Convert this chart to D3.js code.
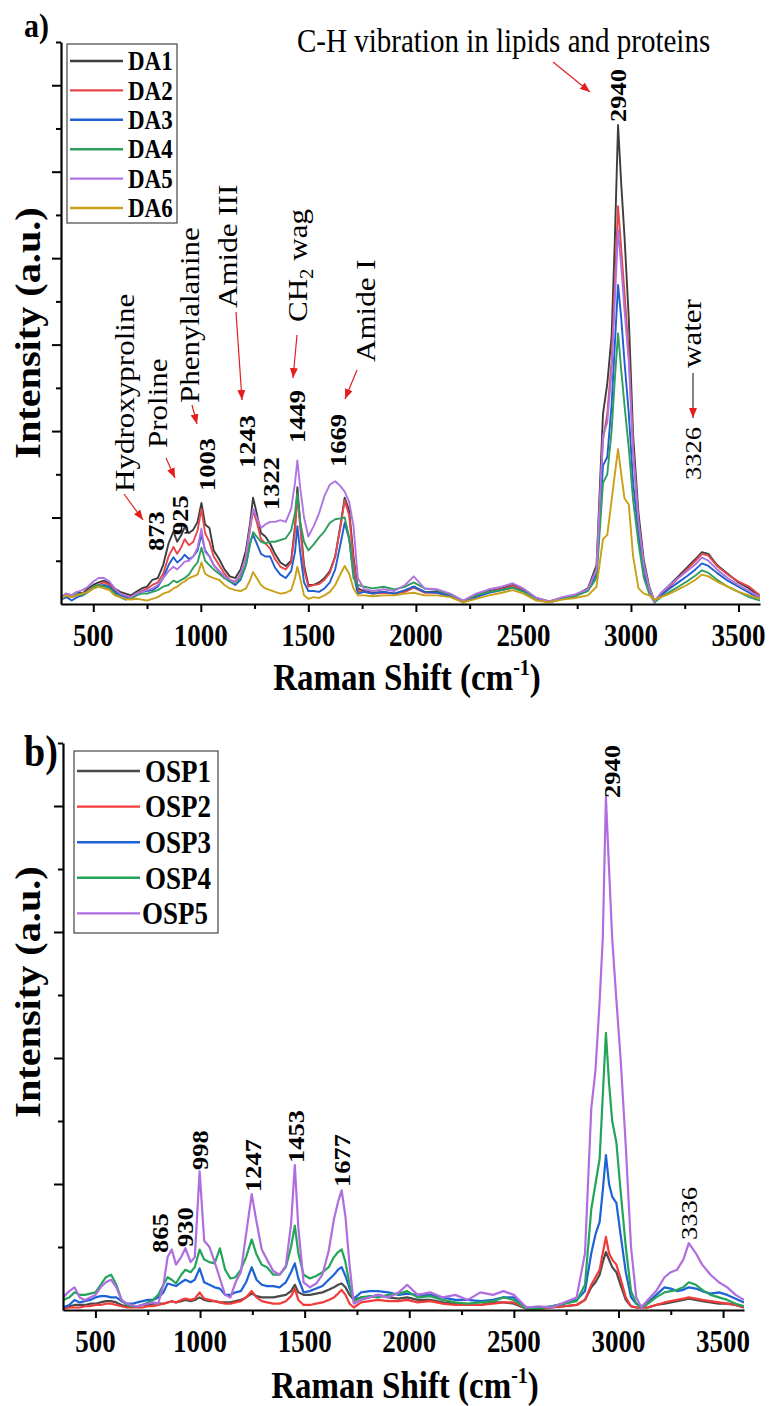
<!DOCTYPE html>
<html>
<head>
<meta charset="utf-8">
<script src="https://cdn.jsdelivr.net/npm/d3@7"></script>
<style>
  body { margin: 0; background: #fff; }
  svg text { font-family: "Liberation Serif", "Times New Roman", serif; fill: #000; }
</style>
</head>
<body>
<svg id="chart" width="769" height="1406"></svg>
<script>
// ---- panel a: Raman shift grid (cm-1) and spectra DA1..DA6 ----
const shiftA = [
  350,375,400,425,450,475,500,525,550,575,
  600,625,650,675,700,725,750,775,800,825,
  850,873,890,910,925,945,965,985,1003,1020,
  1040,1060,1085,1110,1135,1160,1185,1210,1230,1243,
  1260,1280,1300,1322,1345,1370,1395,1420,1438,1449,
  1462,1480,1500,1525,1550,1575,1600,1625,1650,1669,
  1690,1710,1730,1760,1800,1850,1900,1950,1990,2040,
  2100,2160,2220,2280,2340,2400,2450,2500,2560,2620,
  2680,2740,2800,2840,2870,2890,2910,2925,2940,2955,
  2970,2990,3010,3035,3060,3085,3110,3140,3180,3220,
  3260,3300,3330,3360,3400,3450,3500,3550,3600
];
const da1 = [
  0.08,0.12,0.10,0.14,0.12,0.18,0.22,0.25,0.27,0.24,
  0.18,0.14,0.12,0.10,0.14,0.18,0.20,0.28,0.30,0.45,
  0.70,0.84,0.72,0.80,0.89,0.82,0.86,0.95,1.17,0.92,
  0.88,0.62,0.52,0.40,0.32,0.30,0.40,0.62,0.95,1.23,
  1.05,0.82,0.78,0.70,0.58,0.48,0.44,0.50,0.90,1.35,
  0.95,0.45,0.22,0.22,0.25,0.30,0.38,0.55,0.92,1.23,
  1.08,0.55,0.18,0.15,0.13,0.14,0.12,0.15,0.20,0.14,
  0.14,0.10,0.03,0.10,0.15,0.18,0.22,0.17,0.07,0.03,
  0.07,0.10,0.18,0.45,2.20,2.55,3.10,4.20,5.54,4.85,
  4.25,3.30,1.95,1.05,0.50,0.20,0.03,0.12,0.22,0.32,
  0.42,0.52,0.60,0.58,0.45,0.35,0.25,0.18,0.08
];
const da2 = [
  0.06,0.10,0.08,0.12,0.10,0.15,0.20,0.22,0.25,0.22,
  0.16,0.12,0.10,0.08,0.12,0.15,0.18,0.22,0.25,0.35,
  0.55,0.66,0.58,0.66,0.75,0.68,0.72,0.85,1.10,0.82,
  0.72,0.55,0.45,0.35,0.28,0.26,0.34,0.55,0.88,1.08,
  0.95,0.75,0.70,0.64,0.52,0.43,0.40,0.48,0.85,1.25,
  0.90,0.40,0.20,0.22,0.23,0.28,0.36,0.55,0.90,1.20,
  1.02,0.50,0.15,0.14,0.12,0.13,0.12,0.14,0.19,0.13,
  0.13,0.09,0.03,0.09,0.14,0.17,0.21,0.16,0.06,0.03,
  0.06,0.09,0.17,0.40,1.90,2.20,2.80,3.70,4.60,4.10,
  3.60,2.90,1.80,0.95,0.45,0.18,0.03,0.12,0.20,0.30,
  0.40,0.50,0.58,0.56,0.44,0.34,0.26,0.20,0.10
];
const da3 = [
  0.05,0.08,0.04,0.08,0.10,0.14,0.18,0.20,0.22,0.20,
  0.14,0.10,0.08,0.06,0.10,0.14,0.15,0.16,0.20,0.30,
  0.45,0.54,0.48,0.52,0.57,0.52,0.55,0.62,0.80,0.62,
  0.55,0.45,0.38,0.30,0.26,0.22,0.28,0.45,0.72,0.80,
  0.70,0.58,0.55,0.55,0.42,0.34,0.30,0.38,0.60,0.90,
  0.60,0.25,0.15,0.15,0.14,0.18,0.25,0.40,0.70,0.94,
  0.75,0.35,0.12,0.14,0.12,0.14,0.12,0.16,0.20,0.14,
  0.13,0.09,0.02,0.08,0.13,0.16,0.19,0.15,0.06,0.02,
  0.06,0.09,0.16,0.35,1.60,1.70,2.30,3.00,3.69,3.30,
  2.80,2.20,1.40,0.80,0.35,0.15,0.02,0.10,0.18,0.25,
  0.32,0.40,0.47,0.44,0.36,0.27,0.20,0.13,0.06
];
const da4 = [
  0.07,0.10,0.08,0.12,0.10,0.14,0.20,0.22,0.20,0.18,
  0.12,0.08,0.05,0.06,0.10,0.12,0.12,0.14,0.16,0.20,
  0.22,0.27,0.25,0.28,0.30,0.34,0.42,0.48,0.65,0.50,
  0.45,0.40,0.35,0.30,0.26,0.24,0.30,0.45,0.70,0.83,
  0.78,0.72,0.70,0.72,0.72,0.74,0.76,0.85,1.05,1.28,
  0.95,0.72,0.62,0.69,0.77,0.84,0.94,0.98,0.99,1.00,
  0.76,0.30,0.22,0.20,0.18,0.20,0.17,0.20,0.25,0.18,
  0.16,0.11,0.04,0.10,0.14,0.16,0.19,0.14,0.05,0.02,
  0.06,0.09,0.15,0.30,1.40,1.50,2.00,2.60,3.13,2.70,
  2.30,1.80,1.20,0.70,0.30,0.12,0.02,0.08,0.14,0.20,
  0.26,0.33,0.39,0.36,0.28,0.20,0.14,0.08,0.04
];
const da5 = [
  0.08,0.12,0.10,0.14,0.16,0.20,0.26,0.30,0.30,0.26,
  0.18,0.12,0.10,0.08,0.12,0.14,0.16,0.18,0.22,0.30,
  0.38,0.43,0.40,0.45,0.49,0.50,0.55,0.65,0.87,0.60,
  0.55,0.45,0.38,0.32,0.28,0.25,0.35,0.55,0.90,1.10,
  1.00,0.88,0.92,0.95,0.95,0.97,0.95,1.10,1.40,1.66,
  1.35,1.00,0.78,0.90,1.05,1.25,1.38,1.42,1.36,1.30,
  1.18,0.90,0.30,0.17,0.15,0.17,0.15,0.22,0.32,0.18,
  0.17,0.12,0.04,0.12,0.17,0.20,0.24,0.18,0.07,0.03,
  0.08,0.11,0.17,0.40,1.95,2.10,2.70,3.50,4.33,3.90,
  3.40,2.80,1.75,0.95,0.45,0.18,0.03,0.13,0.22,0.30,
  0.38,0.46,0.54,0.50,0.40,0.30,0.22,0.15,0.08
];
const da6 = [
  0.06,0.10,0.08,0.10,0.12,0.14,0.18,0.20,0.18,0.16,
  0.10,0.08,0.06,0.05,0.06,0.05,0.04,0.06,0.08,0.12,
  0.14,0.18,0.20,0.24,0.26,0.30,0.32,0.34,0.48,0.35,
  0.32,0.30,0.28,0.22,0.18,0.16,0.15,0.18,0.28,0.37,
  0.30,0.22,0.18,0.16,0.14,0.12,0.13,0.16,0.30,0.43,
  0.30,0.10,0.06,0.08,0.07,0.10,0.14,0.22,0.35,0.44,
  0.35,0.18,0.10,0.10,0.09,0.10,0.10,0.12,0.13,0.10,
  0.10,0.08,0.02,0.06,0.10,0.13,0.16,0.12,0.04,0.02,
  0.05,0.07,0.10,0.20,0.75,0.80,1.20,1.50,1.79,1.50,
  1.22,1.15,0.55,0.18,0.12,0.10,0.05,0.08,0.12,0.17,
  0.22,0.28,0.34,0.32,0.26,0.20,0.14,0.10,0.06
];
const namesA = ['DA1', 'DA2', 'DA3', 'DA4', 'DA5', 'DA6'];
const colorsA = ['#3d3d3d', '#e5474c', '#1f5fcf', '#2e9e5e', '#b074e0', '#c9a017'];

// ---- panel b: Raman shift grid (cm-1) and spectra OSP1..OSP5 ----
const shiftB = [
  345,375,400,425,450,475,500,525,550,575,
  600,625,650,675,700,725,750,775,800,825,
  845,865,885,910,930,955,975,998,1020,1045,
  1070,1095,1120,1145,1170,1195,1220,1247,1270,1295,
  1320,1350,1380,1410,1435,1453,1470,1495,1525,1555,
  1585,1615,1640,1660,1677,1695,1715,1735,1770,1810,
  1850,1900,1950,1990,2040,2100,2160,2220,2280,2340,
  2400,2450,2500,2560,2620,2680,2740,2800,2840,2870,
  2890,2910,2925,2940,2955,2970,2990,3010,3035,3060,
  3085,3110,3140,3180,3220,3250,3280,3310,3336,3370,
  3400,3440,3480,3520,3560,3600
];
const osp1 = [
  0.02,0.03,0.04,0.04,0.04,0.05,0.05,0.06,0.07,0.07,
  0.06,0.04,0.03,0.03,0.03,0.04,0.04,0.05,0.05,0.05,
  0.06,0.07,0.06,0.07,0.08,0.07,0.08,0.10,0.08,0.07,
  0.07,0.06,0.06,0.06,0.07,0.08,0.10,0.13,0.11,0.10,
  0.10,0.10,0.11,0.12,0.15,0.20,0.14,0.12,0.12,0.13,
  0.14,0.16,0.18,0.20,0.21,0.18,0.12,0.08,0.10,0.10,
  0.12,0.10,0.09,0.10,0.08,0.08,0.06,0.05,0.04,0.04,
  0.06,0.06,0.05,0.01,0.01,0.02,0.03,0.04,0.08,0.18,
  0.22,0.28,0.38,0.46,0.40,0.34,0.30,0.20,0.08,0.03,
  0.02,0.02,0.02,0.04,0.05,0.06,0.07,0.08,0.09,0.08,
  0.07,0.06,0.05,0.05,0.04,0.02
];
const osp2 = [
  0.01,0.02,0.02,0.02,0.03,0.03,0.04,0.04,0.05,0.05,
  0.04,0.03,0.02,0.02,0.02,0.02,0.03,0.03,0.04,0.05,
  0.06,0.07,0.06,0.08,0.09,0.08,0.09,0.14,0.09,0.08,
  0.07,0.06,0.05,0.05,0.06,0.07,0.10,0.15,0.10,0.07,
  0.06,0.05,0.05,0.07,0.11,0.17,0.08,0.04,0.04,0.05,
  0.06,0.08,0.10,0.13,0.16,0.12,0.05,0.02,0.06,0.07,
  0.08,0.07,0.07,0.08,0.06,0.07,0.05,0.04,0.04,0.04,
  0.05,0.06,0.06,0.01,0.01,0.02,0.03,0.04,0.08,0.20,
  0.26,0.32,0.45,0.58,0.45,0.40,0.36,0.25,0.10,0.03,
  0.02,0.02,0.02,0.04,0.06,0.07,0.08,0.09,0.10,0.09,
  0.08,0.07,0.06,0.05,0.04,0.02
];
const osp3 = [
  0.02,0.04,0.08,0.06,0.07,0.08,0.10,0.11,0.11,0.10,
  0.10,0.07,0.05,0.05,0.06,0.07,0.08,0.08,0.10,0.14,
  0.21,0.20,0.19,0.22,0.24,0.22,0.24,0.33,0.22,0.20,
  0.18,0.17,0.12,0.12,0.14,0.15,0.22,0.34,0.24,0.20,
  0.19,0.19,0.18,0.22,0.30,0.37,0.25,0.14,0.15,0.17,
  0.19,0.24,0.28,0.32,0.34,0.27,0.17,0.09,0.14,0.15,
  0.15,0.14,0.12,0.13,0.12,0.12,0.10,0.08,0.08,0.07,
  0.08,0.10,0.10,0.02,0.02,0.03,0.05,0.08,0.15,0.45,
  0.60,0.70,0.95,1.23,1.00,0.90,0.85,0.60,0.30,0.10,
  0.05,0.03,0.06,0.12,0.18,0.17,0.15,0.16,0.18,0.17,
  0.15,0.13,0.14,0.12,0.09,0.06
];
const osp4 = [
  0.08,0.10,0.14,0.12,0.12,0.13,0.14,0.20,0.26,0.28,
  0.20,0.08,0.04,0.03,0.03,0.04,0.06,0.08,0.12,0.20,
  0.26,0.24,0.21,0.28,0.32,0.30,0.34,0.48,0.40,0.38,
  0.37,0.49,0.32,0.25,0.26,0.32,0.42,0.56,0.44,0.36,
  0.34,0.28,0.28,0.34,0.50,0.67,0.45,0.28,0.25,0.27,
  0.30,0.34,0.42,0.46,0.48,0.38,0.20,0.07,0.10,0.11,
  0.10,0.12,0.13,0.15,0.10,0.11,0.08,0.06,0.05,0.06,
  0.07,0.10,0.08,0.01,0.01,0.03,0.05,0.07,0.20,0.80,
  1.00,1.20,1.70,2.20,1.80,1.50,1.33,0.95,0.50,0.15,
  0.05,0.02,0.05,0.10,0.14,0.15,0.16,0.18,0.22,0.20,
  0.16,0.12,0.10,0.08,0.05,0.03
];
const osp5 = [
  0.10,0.15,0.18,0.10,0.08,0.10,0.12,0.18,0.22,0.24,
  0.18,0.08,0.05,0.04,0.03,0.04,0.05,0.06,0.05,0.20,
  0.42,0.48,0.36,0.42,0.49,0.38,0.42,1.10,0.55,0.50,
  0.38,0.25,0.12,0.10,0.22,0.30,0.60,0.92,0.70,0.48,
  0.40,0.31,0.28,0.35,0.68,1.15,0.65,0.22,0.18,0.21,
  0.28,0.47,0.72,0.86,0.95,0.74,0.35,0.05,0.08,0.10,
  0.12,0.10,0.14,0.20,0.12,0.14,0.10,0.12,0.08,0.14,
  0.12,0.15,0.12,0.02,0.03,0.02,0.06,0.10,0.45,1.60,
  1.90,2.45,2.95,4.07,3.50,2.95,2.46,2.00,1.30,0.50,
  0.10,0.02,0.08,0.15,0.26,0.30,0.32,0.40,0.53,0.45,
  0.36,0.28,0.22,0.18,0.12,0.08
];
const namesB = ['OSP1', 'OSP2', 'OSP3', 'OSP4', 'OSP5'];
const colorsB = ['#4a4a4a', '#f23b3b', '#1d63d6', '#23a45a', '#b06de0'];

// axis ticks
const majorX = [500, 1000, 1500, 2000, 2500, 3000, 3500];
const minorX = [750, 1250, 1750, 2250, 2750, 3250];

// lettering is drawn a little taller than wide
const SY = 1.15;
const tf = (x, y, rot) => `translate(${x},${y}) scale(1,${SY})` + (rot ? ` rotate(${rot})` : '');

const svg = d3.select('#chart');
svg.append('rect').attr('width', 769).attr('height', 1406).attr('fill', '#fff');
const defs = svg.append('defs');
defs.append('marker')
  .attr('id', 'head')
  .attr('viewBox', '0 0 10 8')
  .attr('refX', 10).attr('refY', 4)
  .attr('markerWidth', 10).attr('markerHeight', 8)
  .attr('markerUnits', 'userSpaceOnUse')
  .attr('orient', 'auto')
  .append('path').attr('d', 'M0,0L10,4L0,8z').attr('fill', '#e41e1e');

function txt(x, y, s, o) {
  const t = svg.append('text')
    .attr('transform', tf(x, y, o.rot || 0))
    .attr('font-size', o.size)
    .attr('font-weight', o.weight || 'normal')
    .attr('text-anchor', o.anchor || 'start')
    .text(s);
  if (o.dy) t.attr('dy', o.dy);
  return t;
}

function arrow(x1, y1, x2, y2, shaft) {
  svg.append('line')
    .attr('x1', x1).attr('y1', y1).attr('x2', x2).attr('y2', y2)
    .attr('stroke', shaft || '#e41e1e').attr('stroke-width', 1.2)
    .attr('marker-end', 'url(#head)');
}

function drawPanel(p) {
  const x = d3.scaleLinear().domain(p.xDomain).range([p.l, p.r]);
  const y = d3.scaleLinear().domain([0, p.yMax]).range([p.b, p.t]);

  defs.append('clipPath').attr('id', 'clip-' + p.id)
    .append('rect').attr('x', p.l).attr('y', p.t - 5).attr('width', p.r - p.l).attr('height', p.b - p.t + 5);

  const line = d3.line().x(d => x(d[0])).y(d => y(d[1]));
  const g = svg.append('g').attr('clip-path', `url(#clip-${p.id})`);
  p.series.forEach((vals, i) => {
    g.append('path')
      .datum(p.shift.map((s, j) => [s, vals[j]]))
      .attr('d', line)
      .attr('fill', 'none')
      .attr('stroke', p.colors[i])
      .attr('stroke-width', p.lineW)
      .attr('stroke-linejoin', 'round');
  });

  // x axis: major + minor ticks
  const ax = svg.append('g').attr('transform', `translate(0,${p.b})`);
  ax.call(d3.axisBottom(x).tickValues(majorX).tickSize(8).tickSizeOuter(0).tickFormat(''));
  const axm = svg.append('g').attr('transform', `translate(0,${p.b})`);
  axm.call(d3.axisBottom(x).tickValues(minorX).tickSize(5).tickSizeOuter(0).tickFormat(''));
  axm.select('.domain').remove();

  // y axis: no labels, major every 1, minor every 0.5
  const majorY = d3.range(1, Math.floor(p.yMax) + 1);
  const minorY = d3.range(0.5, p.yMax + 0.01, 1);
  const ay = svg.append('g').attr('transform', `translate(${p.l},0)`);
  ay.call(d3.axisLeft(y).tickValues(majorY).tickSize(9).tickSizeOuter(0).tickFormat(''));
  const aym = svg.append('g').attr('transform', `translate(${p.l},0)`);
  aym.call(d3.axisLeft(y).tickValues(minorY).tickSize(5).tickSizeOuter(0).tickFormat(''));
  aym.select('.domain').remove();

  svg.selectAll('.domain').attr('stroke', '#000').attr('stroke-width', 2.2);
  svg.selectAll('.tick line').attr('stroke', '#000').attr('stroke-width', 2);

  majorX.forEach(v => txt(x(v), p.b + p.tickGap, v, { size: 27, weight: 'bold', anchor: 'middle' }));

  const title = txt(p.titleX, p.b + p.titleGap, 'Raman Shift (cm', { size: 33, weight: 'bold', anchor: 'middle' });
  title.append('tspan').attr('font-size', 20).attr('dy', -13).text('-1');
  title.append('tspan').attr('dy', 13).text(')');

  txt(28, p.yTitle, 'Intensity (a.u.)', { size: 35, weight: 'bold', anchor: 'middle', rot: -90, dy: '0.35em' });

  // legend
  const lg = p.legend;
  svg.append('rect').attr('x', lg.x).attr('y', lg.y).attr('width', lg.w).attr('height', lg.h)
    .attr('fill', 'none').attr('stroke', '#444').attr('stroke-width', 1.2);
  p.names.forEach((n, i) => {
    const yy = lg.y + lg.first + i * lg.step;
    svg.append('line').attr('x1', lg.x + 3).attr('x2', lg.x + lg.len).attr('y1', yy).attr('y2', yy)
      .attr('stroke', p.colors[i]).attr('stroke-width', 2.4);
    const tx = (lg.textX && lg.textX[i] != null) ? lg.textX[i] : lg.x + lg.len + 5;
    txt(tx, yy, n, { size: lg.size, weight: 'bold', dy: '0.35em' });
  });

  txt(p.tag.x, p.tag.y, p.tag.text, { size: p.tag.size, weight: 'bold' });
  return { x, y };
}

// ---------- panel a ----------
const A = drawPanel({
  id: 'a', shift: shiftA, series: [da1, da2, da3, da4, da5, da6], names: namesA, colors: colorsA,
  xDomain: [350, 3600], yMax: 6.5, l: 61, r: 760, t: 42, b: 604, lineW: 1.9,
  tickGap: 42, titleGap: 86, titleX: 407, yTitle: 333,
  legend: { x: 67, y: 44, w: 110, h: 179, first: 17, step: 29.4, len: 56, size: 23 },
  tag: { x: 24, y: 37, text: 'a)', size: 30 }
});

// peak positions, bold, reading upward
const peaksA = [
  { wn: 873, dx: -18, yb: 551 }, { wn: 925, dx: -5, yb: 535 }, { wn: 1003, dx: 5, yb: 491 },
  { wn: 1243, dx: -6, yb: 468 }, { wn: 1322, dx: 1, yb: 510 }, { wn: 1449, dx: 0, yb: 443 },
  { wn: 1669, dx: -7, yb: 467 }, { wn: 2940, dx: 0, yb: 122 }
];
peaksA.forEach(d => txt(A.x(d.wn) + d.dx, d.yb, d.wn, { size: 23, weight: 'bold', rot: -90, dy: '0.35em' }));
txt(A.x(3326) - 8, 480, '3326', { size: 23, rot: -90, dy: '0.35em' });

// band assignments
const bandsA = [
  { s: 'Hydroxyproline', cx: 125, yb: 492 }, { s: 'Proline', cx: 158, yb: 448 },
  { s: 'Phenylalanine', cx: 190, yb: 403 }, { s: 'Amide III', cx: 228, yb: 308 },
  { s: 'Amide I', cx: 366, yb: 362 }, { s: 'water', cx: 692, yb: 368 }
];
bandsA.forEach(d => txt(d.cx, d.yb, d.s, { size: 27, rot: -90, dy: '0.35em' }));
const ch2 = txt(298, 322, 'CH', { size: 27, rot: -90, dy: '0.35em' });
ch2.append('tspan').attr('font-size', 18).attr('dy', 6).text('2');
ch2.append('tspan').attr('dy', -6).text(' wag');
txt(297, 52, 'C-H vibration in lipids and proteins', { size: 29 });

arrow(124, 494, 143, 520);
arrow(166, 458, 175, 478);
arrow(192, 405, 197, 424);
arrow(236, 312, 242, 400);
arrow(297, 335, 293, 378);
arrow(357, 370, 345, 399);
arrow(553, 62, 590, 92);
arrow(693, 373, 693, 418, '#333');

// ---------- panel b ----------
const B = drawPanel({
  id: 'b', shift: shiftB, series: [osp1, osp2, osp3, osp4, osp5], names: namesB, colors: colorsB,
  xDomain: [345, 3600], yMax: 4.5, l: 63, r: 744, t: 743, b: 1310, lineW: 2.2,
  tickGap: 42, titleGap: 88, titleX: 405, yTitle: 992,
  legend: { x: 74, y: 751, w: 144, h: 182, first: 20, step: 35.6, len: 66, size: 27, textX: [null, null, null, null, 142] },
  tag: { x: 24, y: 766, text: 'b)', size: 38 }
});

const peaksB = [
  { wn: 865, dx: -12, yb: 1253 }, { wn: 930, dx: 0, yb: 1247 }, { wn: 998, dx: 0, yb: 1170 },
  { wn: 1247, dx: 1, yb: 1192 }, { wn: 1453, dx: 1, yb: 1163 }, { wn: 1677, dx: 0, yb: 1187 },
  { wn: 2940, dx: 6, yb: 798 }
];
peaksB.forEach(d => txt(B.x(d.wn) + d.dx, d.yb, d.wn, { size: 23, weight: 'bold', rot: -90, dy: '0.35em' }));
txt(B.x(3336), 1240, '3336', { size: 23, rot: -90, dy: '0.35em' });
</script>
</body>
</html>
